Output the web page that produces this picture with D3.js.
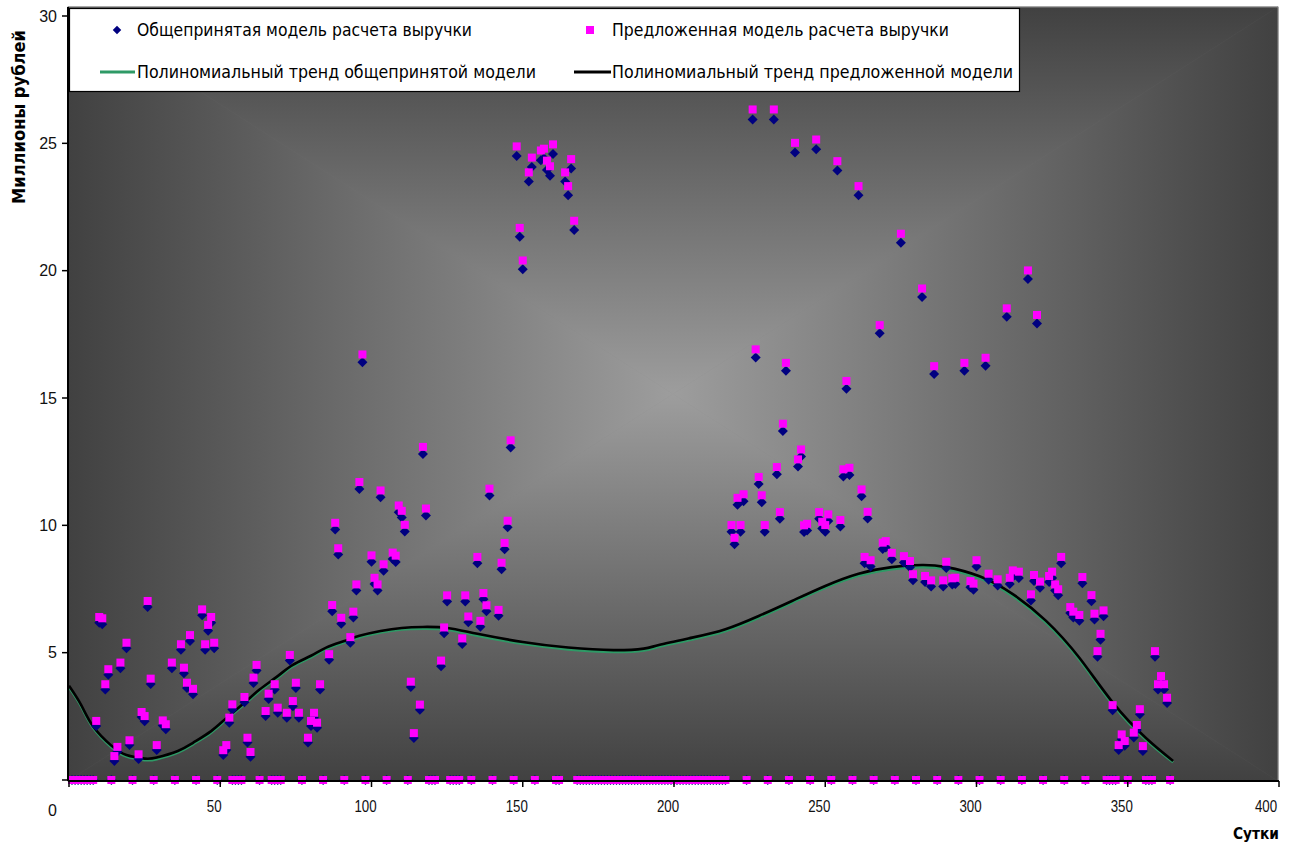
<!DOCTYPE html>
<html><head><meta charset="utf-8">
<script src="https://cdn.jsdelivr.net/npm/d3@7"></script>
<style>body{margin:0;background:#fff}svg{display:block}</style>
</head><body>
<svg id="c" width="1292" height="845"></svg>
<script>
// ---- data ----
const days = [9,10,11,12,13,15,16,17,19,20,23,24,25,26,27,29,31,32,34,37,38,39,40,41,44,45,46,47,48,51,52,53,54,58,59,60,61,62,65,66,68,69,72,73,74,75,76,79,80,81,82,83,86,87,88,89,90,93,94,95,96,97,100,101,102,103,104,107,108,109,110,111,113,114,116,117,118,123,124,125,130,131,132,135,136,137,138,139,142,143,144,145,146,148,149,150,152,153,156,157,158,159,160,164,165,166,167,219,220,221,222,223,226,227,228,229,230,233,234,235,236,237,240,241,242,243,244,247,248,249,250,251,254,255,256,257,258,261,262,263,264,265,268,269,270,272,275,276,278,279,282,283,285,286,289,290,292,293,296,298,299,300,303,304,307,310,311,312,314,317,318,319,320,321,324,325,326,327,328,331,332,334,335,338,339,340,341,342,345,347,348,349,352,353,354,355,359,360,361,362,363];
const proposedValues = [2.32,6.40,6.35,3.76,4.35,0.94,1.30,4.61,5.39,1.56,1.01,2.67,2.51,7.03,3.98,1.37,2.34,2.19,4.61,5.33,4.41,3.82,5.69,3.58,6.70,5.33,6.09,6.40,5.39,1.17,1.37,2.45,2.97,3.26,1.66,1.10,4.02,4.52,2.71,3.39,3.76,2.84,2.64,4.91,3.10,3.82,2.64,1.66,2.32,2.64,2.25,3.76,4.94,6.87,10.10,9.10,6.37,5.61,6.61,7.68,11.70,16.71,8.82,7.94,7.68,11.37,8.47,8.93,8.81,10.78,10.57,10.02,3.86,1.84,2.96,13.08,10.66,4.69,5.99,7.25,5.56,7.25,6.42,8.76,6.25,7.34,6.86,11.44,6.68,8.53,9.31,10.18,13.34,24.88,21.68,20.40,23.86,24.44,24.72,24.79,24.32,24.10,24.96,23.86,23.32,24.38,21.96,10.01,9.51,11.08,10.01,11.22,26.33,16.91,11.90,11.18,10.01,26.33,12.29,10.52,13.99,16.38,25.02,12.59,12.98,10.00,10.06,25.15,10.52,10.14,10.01,10.43,24.30,10.21,12.20,15.67,12.26,23.32,11.41,8.76,10.53,8.63,17.86,9.32,9.38,8.92,21.45,8.79,8.60,8.08,19.30,8.01,7.84,16.25,7.84,8.57,7.92,7.94,16.38,7.81,7.71,8.63,16.58,8.10,7.88,18.52,7.94,8.23,8.18,20.01,7.29,8.05,18.26,7.79,8.01,8.18,7.68,7.49,8.76,6.79,6.61,6.48,7.97,7.26,6.53,5.06,5.74,6.66,2.94,1.37,1.79,1.53,1.86,2.16,2.78,1.33,5.06,3.76,4.08,3.76,3.23];
const generalValues = [2.12,6.17,6.12,3.55,4.13,0.75,1.11,4.39,5.17,1.37,0.82,2.47,2.31,6.79,3.77,1.18,2.14,1.99,4.39,5.11,4.19,3.61,5.46,3.37,6.47,5.11,5.86,6.17,5.17,0.98,1.18,2.25,2.77,3.05,1.47,0.91,3.81,4.30,2.51,3.18,3.55,2.64,2.44,4.69,2.90,3.61,2.44,1.47,2.12,2.44,2.05,3.55,4.72,6.63,9.84,8.85,6.14,5.39,6.38,7.44,11.43,16.40,8.57,7.70,7.44,11.10,8.22,8.68,8.56,10.51,10.31,9.76,3.65,1.65,2.76,12.80,10.39,4.47,5.76,7.01,5.34,7.01,6.19,8.51,6.02,7.10,6.63,11.17,6.45,8.28,9.06,9.92,13.06,24.50,21.33,20.06,23.50,24.07,24.34,24.41,23.95,23.73,24.58,23.50,22.96,24.01,21.60,9.75,9.26,10.81,9.75,10.95,25.94,16.59,11.62,10.91,9.75,25.94,12.01,10.26,13.70,16.07,24.64,12.31,12.70,9.74,9.80,24.77,10.26,9.88,9.75,10.17,23.93,9.95,11.92,15.36,11.98,22.96,11.14,8.51,10.27,8.38,17.54,9.07,9.13,8.67,21.10,8.54,8.35,7.84,18.97,7.77,7.60,15.94,7.60,8.32,7.68,7.70,16.07,7.57,7.47,8.38,16.27,7.86,7.64,18.19,7.70,7.98,7.93,19.67,7.05,7.81,17.93,7.55,7.77,7.93,7.44,7.25,8.51,6.56,6.38,6.25,7.73,7.02,6.30,4.84,5.51,6.43,2.74,1.18,1.60,1.34,1.67,1.96,2.58,1.14,4.84,3.55,3.87,3.55,3.02];
const zeroDays = [1,2,3,4,5,6,7,8,14,21,28,35,42,49,54,55,56,57,63,67,68,69,70,77,84,91,98,105,112,119,120,121,126,127,128,129,133,140,147,154,161,162,
  168,169,170,171,172,173,174,175,176,177,178,179,180,181,182,183,184,185,186,187,188,189,190,191,192,193,194,195,196,197,198,199,200,201,202,203,204,205,206,207,208,209,210,211,212,213,214,215,216,217,
  224,231,238,245,252,259,266,273,280,287,294,301,308,315,322,329,336,343,344,345,346,350,356,357,358,364];
const trendDays = [0,4,8,14,19,25,29,36,41,47,52,58,63,69,74,80,85,91,96,103,110,117,125,135,150,165,180,190,195,206,217,228,239,250,261,272,282,290,301,312,323,334,345,356,365];
const trendProposed = [3.70,2.95,2.10,1.35,0.98,0.84,0.88,1.14,1.46,1.92,2.43,3.03,3.55,4.08,4.52,4.88,5.20,5.46,5.66,5.85,5.97,6.01,5.97,5.74,5.42,5.20,5.10,5.16,5.30,5.59,5.92,6.44,7.03,7.62,8.10,8.36,8.44,8.36,8.00,7.30,6.25,4.80,3.05,1.65,0.75];
const trendGeneral  = [3.64,2.89,2.04,1.29,0.92,0.78,0.82,1.08,1.40,1.86,2.37,2.97,3.49,4.02,4.46,4.82,5.14,5.40,5.60,5.79,5.91,5.94,5.90,5.67,5.35,5.13,5.03,5.09,5.23,5.52,5.85,6.37,6.96,7.55,8.02,8.28,8.36,8.28,7.92,7.22,6.17,4.72,2.97,1.58,0.70];
const xTickValues = [50,100,150,200,250,300,350,400];
const yTickValues = [5,10,15,20,25,30];
const legendLabels = ["Общепринятая модель расчета выручки","Предложенная модель расчета выручки","Полиномиальный тренд общепринятой модели","Полиномиальный тренд предложенной модели"];
const xTitle = "Сутки";
const yTitle = "Миллионы рублей";

// ---- layout ----
const svg = d3.select("#c");
const P = {l:68, r:1278, t:7, b:781};
const x = d3.scaleLinear().domain([0,400]).range([69,1279]);
const y = d3.scaleLinear().domain([0,30]).range([780,16]);
const NARROW = "'Liberation Sans Narrow','Arial Narrow','DejaVu Sans Condensed','Liberation Sans',sans-serif";
const SANS = "'Liberation Sans',Arial,sans-serif";

// background: rectangular "from center" gradient (4 triangles)
const defs = svg.append("defs");
const cx = (P.l+P.r)/2, cy = (P.t+P.b)/2;
const EDGE = "#414141", CENTER = "#9d9d9d";
function grad(id,x1,y1,x2,y2){
  const g = defs.append("linearGradient").attr("id",id).attr("gradientUnits","userSpaceOnUse")
    .attr("x1",x1).attr("y1",y1).attr("x2",x2).attr("y2",y2);
  g.append("stop").attr("offset",0).attr("stop-color",EDGE);
  g.append("stop").attr("offset",1).attr("stop-color",CENTER);
}
grad("gT",cx,P.t,cx,cy); grad("gB",cx,P.b,cx,cy); grad("gL",P.l,cy,cx,cy); grad("gR",P.r,cy,cx,cy);
const bg = svg.append("g");
bg.append("rect").attr("x",P.l).attr("y",P.t).attr("width",P.r-P.l).attr("height",P.b-P.t).attr("fill","#777");
const tri = [
  ["gT",[[P.l,P.t],[P.r,P.t],[cx,cy]]],
  ["gB",[[P.l,P.b],[P.r,P.b],[cx,cy]]],
  ["gL",[[P.l,P.t],[P.l,P.b],[cx,cy]]],
  ["gR",[[P.r,P.t],[P.r,P.b],[cx,cy]]]
];
tri.forEach(([id,pts])=>{
  bg.append("polygon").attr("points",pts.map(p=>p.join(",")).join(" "))
    .attr("fill",`url(#${id})`).attr("stroke",`url(#${id})`).attr("stroke-width",0.6);
});
bg.append("rect").attr("x",P.l).attr("y",P.t).attr("width",P.r-P.l).attr("height",P.b-P.t)
  .attr("fill","none").attr("stroke","#8a8a8a").attr("stroke-width",1);

// trend lines
const line = d3.line().curve(d3.curveNatural);
svg.append("path").attr("d",line(trendDays.map((d,i)=>[x(d),y(trendGeneral[i])])))
  .attr("fill","none").attr("stroke","#2e9a66").attr("stroke-width",2.6);
svg.append("path").attr("d",line(trendDays.map((d,i)=>[x(d),y(trendProposed[i])])))
  .attr("fill","none").attr("stroke","#000").attr("stroke-width",2.6);

// points
const diamond = "M0,-5L5,0L0,5L-5,0Z";
const gPts = days.map((d,i)=>({d, v:generalValues[i]})).concat(zeroDays.map(d=>({d, v:0})));
const pPts = days.map((d,i)=>({d, v:proposedValues[i]})).concat(zeroDays.map(d=>({d, v:0})));
svg.append("g").selectAll("path").data(gPts).join("path")
  .attr("d",diamond).attr("transform",p=>`translate(${x(p.d)},${y(p.v)})`).attr("fill","#000080");
svg.append("g").selectAll("rect").data(pPts).join("rect")
  .attr("x",p=>x(p.d)-4).attr("y",p=>y(p.v)-4).attr("width",8).attr("height",8).attr("fill","#ff00ff");

// axes
const ax = svg.append("g");
ax.append("line").attr("x1",P.l).attr("x2",P.l).attr("y1",P.t).attr("y2",P.b).attr("stroke","#000").attr("stroke-width",2);
ax.append("line").attr("x1",P.l).attr("x2",P.r+1).attr("y1",P.b).attr("y2",P.b).attr("stroke","#000").attr("stroke-width",2);
ax.selectAll(".yt").data([0].concat(yTickValues)).join("line")
  .attr("x1",P.l-6).attr("x2",P.l).attr("y1",d=>y(d)).attr("y2",d=>y(d)).attr("stroke","#000").attr("stroke-width",1.5);
ax.selectAll(".ytl").data(yTickValues).join("text")
  .attr("x",57).attr("y",d=>y(d)).attr("dy","0.36em").attr("text-anchor","end")
  .attr("font-family",SANS).attr("font-size",16).attr("fill","#111").text(d=>d);
ax.append("text").attr("x",57).attr("y",810).attr("dy","0.36em").attr("text-anchor","end")
  .attr("font-family",SANS).attr("font-size",16).attr("fill","#111").text("0");
ax.selectAll(".xt").data([0].concat(xTickValues)).join("line")
  .attr("x1",d=>x(d)).attr("x2",d=>x(d)).attr("y1",P.b).attr("y2",P.b+6).attr("stroke","#000").attr("stroke-width",1.5);
ax.selectAll(".xtl").data(xTickValues).join("text")
  .attr("x",d=>d===400? x(d)-13 : x(d)-6).attr("y",806).attr("dy","0.36em").attr("text-anchor","middle")
  .attr("font-family",SANS).attr("font-size",17).attr("fill","#111")
  .attr("textLength",d=>String(d).length*7.4).attr("lengthAdjust","spacingAndGlyphs").text(d=>d);

// titles
svg.append("text").attr("x",1256).attr("y",833).attr("dy","0.36em").attr("text-anchor","middle")
  .attr("font-family",NARROW).attr("font-weight","bold").attr("font-size",16)
  .attr("textLength",46).attr("lengthAdjust","spacingAndGlyphs").text(xTitle);
svg.append("text").attr("transform","translate(19,117) rotate(-90)").attr("dy","0.36em").attr("text-anchor","middle")
  .attr("font-family",NARROW).attr("font-weight","bold").attr("font-size",17)
  .attr("textLength",174).attr("lengthAdjust","spacingAndGlyphs").text(yTitle);

// legend
const lg = svg.append("g");
lg.append("rect").attr("x",69.5).attr("y",8.5).attr("width",950).attr("height",83)
  .attr("fill","#fff").attr("stroke","#000").attr("stroke-width",1.2);
const lt = (tx,ty,s,w)=>lg.append("text").attr("x",tx).attr("y",ty).attr("dy","0.36em")
  .attr("font-family",NARROW).attr("font-size",18).attr("fill","#000")
  .attr("textLength",w).attr("lengthAdjust","spacingAndGlyphs").text(s);
lg.append("path").attr("d",diamond).attr("transform","translate(117,30) scale(0.85)").attr("fill","#000080");
lt(137,30,legendLabels[0],335);
lg.append("rect").attr("x",586).attr("y",26).attr("width",8).attr("height",8).attr("fill","#ff00ff");
lt(612,30,legendLabels[1],337);
lg.append("line").attr("x1",100).attr("x2",135).attr("y1",72).attr("y2",72).attr("stroke","#2e9a66").attr("stroke-width",3);
lt(137,72,legendLabels[2],399);
lg.append("line").attr("x1",574).attr("x2",611).attr("y1",72).attr("y2",72).attr("stroke","#000").attr("stroke-width",3);
lt(612,72,legendLabels[3],401);
</script>
</body></html>
